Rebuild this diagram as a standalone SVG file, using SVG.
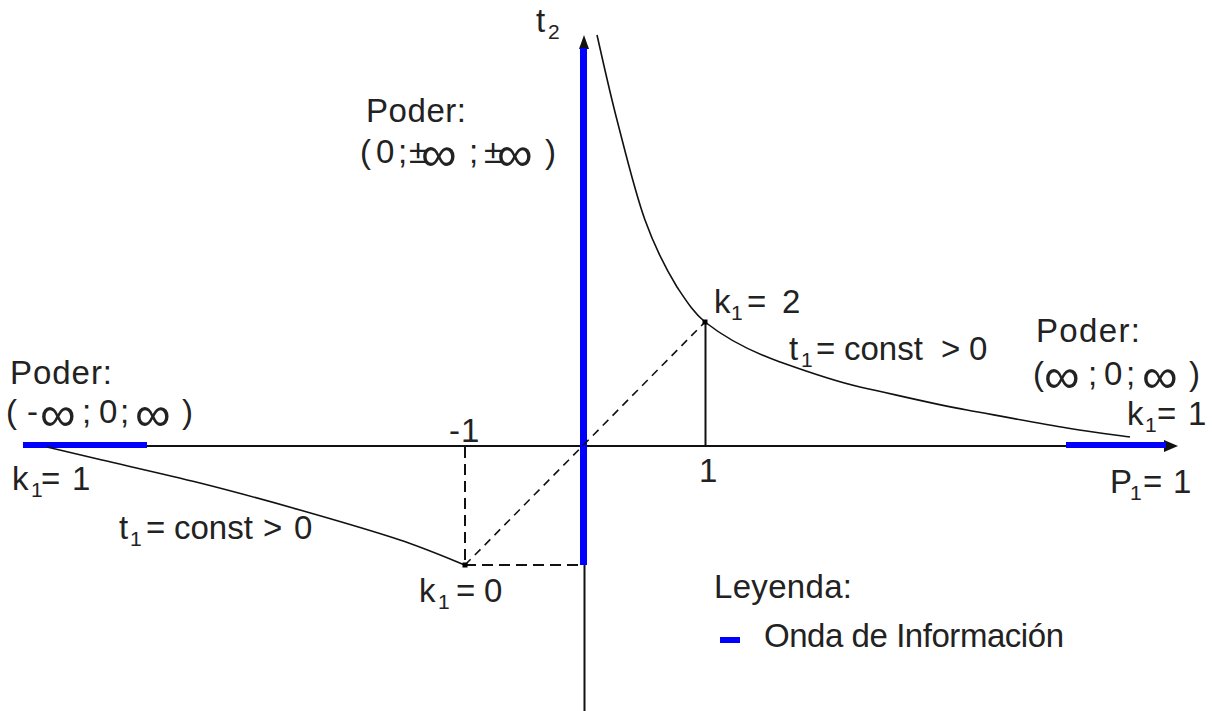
<svg xmlns="http://www.w3.org/2000/svg" width="1212" height="711" viewBox="0 0 1212 711">
<style>
text{font-family:"Liberation Sans",Arial,sans-serif;font-size:33px;fill:#222}
.sub{font-size:21px}
.inf{font-size:50px}
.ax{stroke:#111;stroke-width:2;fill:none}
.crv{stroke:#111;stroke-width:1.6;fill:none}
.dash{stroke:#111;stroke-width:2;fill:none;stroke-dasharray:11 6}
.dash2{stroke:#111;stroke-width:1.6;fill:none;stroke-dasharray:8 6}
.wave{fill:#0000ff}
</style>
<rect width="1212" height="711" fill="#fff"/>
<g id="connectors">
  <g id="axes">
    <line class="ax" x1="24" y1="446" x2="1166" y2="446"/>
    <polygon points="1178,446 1164,440 1164,452" fill="#111"/>
    <line class="ax" x1="584.5" y1="48" x2="584.5" y2="711"/>
    <polygon points="584,35 579,49 589,49" fill="#111"/>
  </g>
  <g id="info-waves">
    <rect class="wave" x="580" y="48" width="7" height="517"/>
    <rect class="wave" x="23" y="442" width="124" height="6"/>
    <rect class="wave" x="1066" y="442" width="100" height="6"/>
  </g>
  <g id="guides">
    <line class="ax" x1="705.5" y1="322" x2="705.5" y2="446"/>
    <line class="dash" x1="465" y1="447" x2="465" y2="565"/>
    <line class="dash" x1="465" y1="565" x2="580" y2="565"/>
    <line class="dash2" x1="465" y1="565" x2="705" y2="322"/>
  </g>
  <g id="curves">
    <path class="crv" d="M597 35 C600.3 49.2 609 89.2 617 120 C625 150.8 635 192.2 645 220 C655 247.8 666 269 677 287 C687 302 694 313 705 322 C724 337 752 352 780 362 C808 372 833 381 860 387 C893 394 933 404 967 410 C1000 416 1040 423.5 1067 428 C1094 432.5 1119.5 435.5 1130 437"/>
    <path class="crv" d="M47 447 C56.2 449.2 76.5 454 102 460 C127.5 466 167 474.7 200 483 C233 491.3 266.7 500.5 300 510 C333.3 519.5 372.5 530.8 400 540 C427.5 549.2 454.2 560.8 465 565"/>
  </g>
</g>
<g id="point-k2"><rect x="702.5" y="319.5" width="5" height="5" fill="#000"/></g>
<g id="point-k0"><rect x="462.5" y="562.5" width="5" height="5" fill="#000"/></g>
<g id="label-t2"><text x="536" y="32">t<tspan class="sub" x="548" y="39">2</tspan></text></g>
<g id="label-top">
  <text x="366" y="122" textLength="100" lengthAdjust="spacing">Poder:</text>
  <text y="163"><tspan x="360">(</tspan><tspan x="376">0</tspan><tspan x="398">;</tspan><tspan x="409">±</tspan><tspan class="inf" x="421" y="171">∞</tspan><tspan x="469" y="163">;</tspan><tspan x="484">±</tspan><tspan class="inf" x="497" y="171">∞</tspan><tspan x="545" y="163">)</tspan></text>
</g>
<g id="label-left">
  <text x="10" y="384" textLength="102" lengthAdjust="spacing">Poder:</text>
  <text y="423"><tspan x="6">(</tspan><tspan x="27">-</tspan><tspan class="inf" x="40" y="431">∞</tspan><tspan x="82" y="423">;</tspan><tspan x="99">0</tspan><tspan x="120">;</tspan><tspan class="inf" x="135" y="431">∞</tspan><tspan x="182" y="423">)</tspan></text>
  <text y="490"><tspan x="12">k</tspan><tspan class="sub" x="31" y="497">1</tspan><tspan x="41" y="490">=</tspan><tspan x="72">1</tspan></text>
  <text y="539"><tspan x="119">t</tspan><tspan class="sub" x="130" y="546">1</tspan><tspan x="146" y="539">=</tspan><tspan x="174">const</tspan><tspan x="263">&gt;</tspan><tspan x="294">0</tspan></text>
</g>
<g id="label-minus1"><text y="442"><tspan x="449">-</tspan><tspan x="461">1</tspan></text></g>
<g id="label-k0"><text y="602"><tspan x="419">k</tspan><tspan class="sub" x="438" y="609">1</tspan><tspan x="456" y="602">=</tspan><tspan x="484">0</tspan></text></g>
<g id="label-1"><text x="699" y="482">1</text></g>
<g id="label-k2"><text y="313"><tspan x="714">k</tspan><tspan class="sub" x="731" y="320">1</tspan><tspan x="747" y="313">=</tspan><tspan x="782">2</tspan></text></g>
<g id="label-right-curve"><text y="360"><tspan x="789">t</tspan><tspan class="sub" x="801" y="367">1</tspan><tspan x="816" y="360">=</tspan><tspan x="844">const</tspan><tspan x="941">&gt;</tspan><tspan x="969">0</tspan></text></g>
<g id="label-right">
  <text x="1036" y="342" textLength="104" lengthAdjust="spacing">Poder:</text>
  <text y="385"><tspan x="1033">(</tspan><tspan class="inf" x="1044" y="393">∞</tspan><tspan x="1088" y="385">;</tspan><tspan x="1104">0</tspan><tspan x="1126">;</tspan><tspan class="inf" x="1142" y="393">∞</tspan><tspan x="1189" y="385">)</tspan></text>
  <text y="425"><tspan x="1127">k</tspan><tspan class="sub" x="1145" y="432">1</tspan><tspan x="1157" y="425">=</tspan><tspan x="1188">1</tspan></text>
  <text y="493"><tspan x="1110">P</tspan><tspan class="sub" x="1130" y="500">1</tspan><tspan x="1143" y="493">=</tspan><tspan x="1173">1</tspan></text>
</g>
<g id="legend">
  <text x="714" y="598" textLength="138" lengthAdjust="spacing">Leyenda:</text>
  <rect class="wave" x="720" y="637" width="20" height="6"/>
  <text x="764" y="647" textLength="300" lengthAdjust="spacing">Onda de Información</text>
</g>
</svg>
